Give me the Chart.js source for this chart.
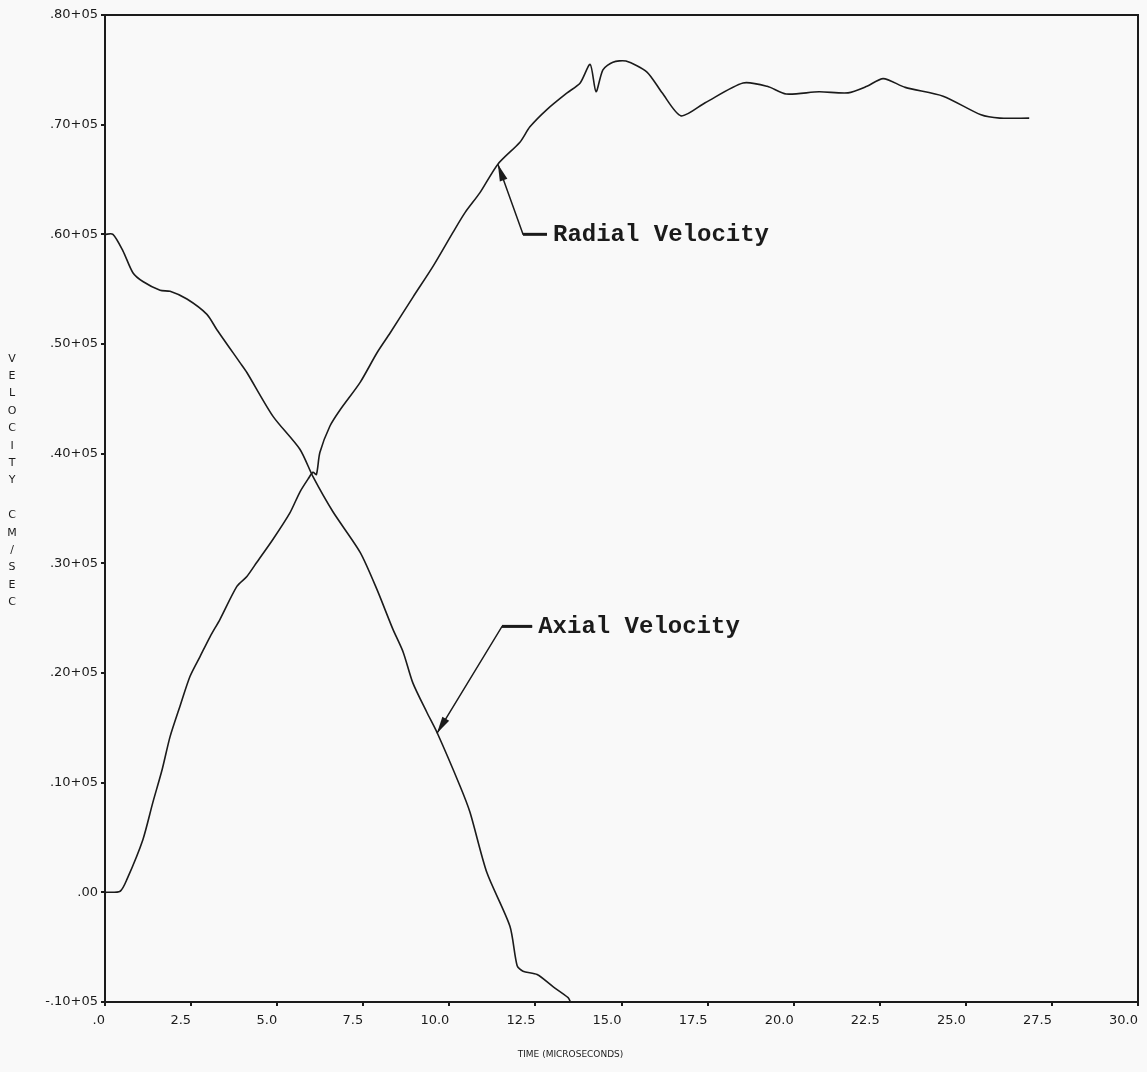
<!DOCTYPE html>
<html lang="en">
<head>
<meta charset="UTF-8">
<script src="https://cdn.jsdelivr.net/npm/chart.js@4.4.0/dist/chart.umd.min.js"></script>
<title>Velocity vs time</title>
<style>
  body { margin: 0; background: #f9f9f9; }
  #wrap { width: 1147px; height: 1072px; }
</style>
</head>
<body>
<div id="wrap"><canvas id="velChart" width="1147" height="1072"></canvas></div>
<script>
// values (time in microseconds, velocity in cm/sec)
var radialTime = [0, 0.44, 0.64, 1.10, 1.39, 1.66, 1.89, 2.18, 2.47, 2.76, 3.05, 3.34, 3.83, 4.12, 4.41, 4.88,
    5.37, 5.66, 5.90, 6.04, 6.14, 6.24, 6.53, 6.83, 7.41, 7.90, 8.28, 8.95, 9.53, 10.11, 10.46, 10.89, 11.41,
    12.05, 12.34, 12.84, 13.42, 13.80, 14.09, 14.26, 14.46, 14.75, 15.13, 15.74, 16.18, 16.73, 17.43, 18.53,
    19.23, 19.78, 20.74, 21.58, 22.13, 22.60, 23.24, 24.34, 25.44, 25.99, 26.84];
var radialVel = [0, 100, 1200, 4800, 8200, 11200, 14200, 17000, 19700, 21500, 23300, 24900, 27900, 28800, 30100, 32200,
    34600, 36500, 37700, 38300, 38100, 40100, 42500, 44000, 46500, 49200, 51000, 54300, 57100, 60200, 62000, 63800, 66400,
    68400, 69800, 71400, 72900, 73800, 75500, 73000, 75000, 75700, 75800, 74800, 72900, 70800, 72000, 73800,
    73500, 72800, 73000, 72900, 73500, 74200, 73400, 72600, 70900, 70600, 70600];

var axialTime = [0, 0.23, 0.52, 0.81, 1.10, 1.60, 1.89, 2.38, 2.96, 3.25, 3.92, 4.12, 4.88, 5.66, 6.04, 6.62,
    7.41, 7.90, 8.36, 8.66, 8.94, 9.35, 9.64, 10.31, 10.60, 11.09, 11.76, 11.97, 12.14, 12.55, 13.01, 13.45, 13.52];
var axialVel = [60000, 60000, 58500, 56500, 55700, 54900, 54800, 54100, 52700, 51300, 48300, 47400, 43400, 40400, 37900, 34700,
    31000, 27600, 24000, 21900, 19100, 16400, 14600, 9700, 7300, 1800, -3100, -6700, -7200, -7500, -8600, -9600, -10000];

var xTickLabels = ['.0', '2.5', '5.0', '7.5', '10.0', '12.5', '15.0', '17.5', '20.0', '22.5', '25.0', '27.5', '30.0'];
var yTickLabels = ['-.10+05', '.00', '.10+05', '.20+05', '.30+05', '.40+05', '.50+05', '.60+05', '.70+05', '.80+05'];

var yTitle = 'VELOCITY CM/SEC';
var xTitle = 'TIME (MICROSECONDS)';

// callouts, anchored in data units
var notes = [
    { text: 'Radial Velocity', tip: [11.41, 66400], elbow: [12.14, 60000], textX: 13.01 },
    { text: 'Axial Velocity', tip: [9.64, 14500], elbow: [11.53, 24250], textX: 12.58 }
];

function toPoints(xs, ys) {
    return xs.map(function (x, i) { return { x: x, y: ys[i] }; });
}

var ink = '#1b1b1b';

var framePlugin = {
    id: 'frame',
    afterDraw: function (chart) {
        var ctx = chart.ctx;
        var a = chart.chartArea;
        var xs = chart.scales.x, ys = chart.scales.y;
        ctx.save();

        // box
        ctx.strokeStyle = ink;
        ctx.lineWidth = 2;
        ctx.strokeRect(a.left, a.top, a.right - a.left, a.bottom - a.top);

        // stacked y title
        ctx.fillStyle = ink;
        ctx.font = '11px "DejaVu Sans"';
        ctx.textAlign = 'center';
        ctx.textBaseline = 'middle';
        var step = 17.4;
        var startY = (a.top + a.bottom) / 2 - 28 - step * (yTitle.length - 1) / 2;
        for (var i = 0; i < yTitle.length; i++) {
            ctx.fillText(yTitle[i], 12, startY + i * step);
        }

        // x title
        ctx.font = '9px "DejaVu Sans"';
        ctx.fillText(xTitle, (a.left + a.right) / 2 - 51, a.bottom + 53);

        // callouts
        ctx.font = 'bold 24px "Liberation Mono"';
        ctx.textAlign = 'left';
        notes.forEach(function (n) {
            var tx = xs.getPixelForValue(n.tip[0]), ty = ys.getPixelForValue(n.tip[1]);
            var ex = xs.getPixelForValue(n.elbow[0]), ey = ys.getPixelForValue(n.elbow[1]);
            var lx = xs.getPixelForValue(n.textX);
            ctx.strokeStyle = ink;
            ctx.lineWidth = 1.5;
            ctx.beginPath();
            ctx.moveTo(lx - 6, ey);
            ctx.lineTo(ex, ey);
            ctx.lineTo(tx, ty);
            ctx.stroke();
            ctx.lineWidth = 3;
            ctx.beginPath();
            ctx.moveTo(lx - 6, ey);
            ctx.lineTo(ex, ey);
            ctx.stroke();
            // arrow head
            var ang = Math.atan2(ty - ey, tx - ex);
            var len = 17, hw = 4;
            ctx.beginPath();
            ctx.moveTo(tx, ty);
            ctx.lineTo(tx - len * Math.cos(ang) + hw * Math.sin(ang), ty - len * Math.sin(ang) - hw * Math.cos(ang));
            ctx.lineTo(tx - len * Math.cos(ang) - hw * Math.sin(ang), ty - len * Math.sin(ang) + hw * Math.cos(ang));
            ctx.closePath();
            ctx.fill();
            ctx.fillText(n.text, lx, ey + 1);
        });
        ctx.restore();
    }
};

var chart = new Chart(document.getElementById('velChart'), {
    type: 'line',
    data: {
        datasets: [
            { label: 'Radial Velocity', data: toPoints(radialTime, radialVel) },
            { label: 'Axial Velocity', data: toPoints(axialTime, axialVel) }
        ]
    },
    options: {
        responsive: false,
        animation: false,
        devicePixelRatio: 1,
        layout: { padding: { left: 0, top: 15, right: 9, bottom: 0 } },
        elements: {
            line: { borderColor: ink, borderWidth: 1.6, tension: 0.25, fill: false },
            point: { radius: 0 }
        },
        plugins: {
            legend: { display: false },
            tooltip: { enabled: false }
        },
        scales: {
            x: {
                type: 'linear',
                min: 0,
                max: 30,
                afterFit: function (s) { s.height = 70; },
                border: { display: false },
                grid: { drawOnChartArea: false, drawTicks: true, tickLength: 4, tickColor: ink, lineWidth: 2 },
                ticks: {
                    stepSize: 2.5,
                    align: 'end',
                    padding: 7,
                    maxRotation: 0,
                    color: ink,
                    font: { family: 'DejaVu Sans', size: 13 },
                    callback: function (v, i) { return xTickLabels[i]; }
                }
            },
            y: {
                min: -10000,
                max: 80000,
                afterFit: function (s) { s.width = 105; },
                border: { display: false },
                grid: { drawOnChartArea: false, drawTicks: true, tickLength: 4, tickColor: ink, lineWidth: 2 },
                ticks: {
                    stepSize: 10000,
                    padding: 3,
                    color: ink,
                    font: { family: 'DejaVu Sans', size: 13 },
                    callback: function (v, i) { return yTickLabels[i]; }
                }
            }
        }
    },
    plugins: [framePlugin]
});
</script>
</body>
</html>
